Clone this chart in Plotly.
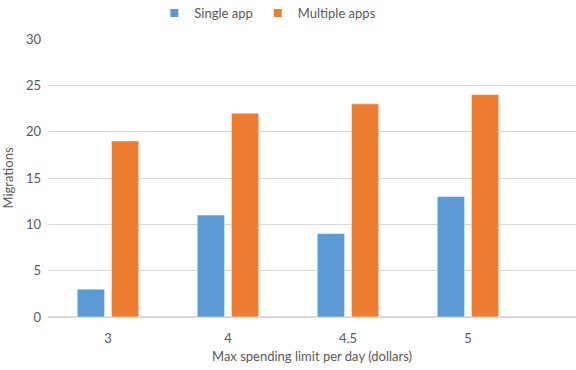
import plotly.graph_objects as go

categories = ["3", "4", "4.5", "5"]
single_app = [3, 11, 9, 13]
multiple_apps = [19, 22, 23, 24]
y_ticks = [0, 5, 10, 15, 20, 25, 30]

BLUE = "#5B9BD5"
ORANGE = "#ED7D31"
TEXT = "#595959"
GRID = "#D9D9D9"
FONT = "Lato"

fig = go.Figure()
fig.add_trace(go.Bar(name="Single app", x=categories, y=single_app, showlegend=False,
                     marker=dict(color=BLUE, line=dict(color="white", width=0.5))))
fig.add_trace(go.Bar(name="Multiple apps", x=categories, y=multiple_apps, showlegend=False,
                     marker=dict(color=ORANGE, line=dict(color="white", width=0.5))))

# small square swatches for the legend
for name, color in [("Single app", BLUE), ("Multiple apps", ORANGE)]:
    fig.add_trace(go.Scatter(x=[None], y=[None], mode="markers", name=name,
                             marker=dict(symbol="square", size=8, color=color)))

fig.update_layout(
    width=576, height=370,
    margin=dict(l=48, r=0, t=39, b=53),
    paper_bgcolor="white", plot_bgcolor="white",
    font=dict(family=FONT, size=13, color=TEXT),
    barmode="group", bargap=0.43, bargroupgap=0.2,
    legend=dict(orientation="h", x=0.465, xanchor="center", xref="container",
                y=0.965, yanchor="middle", yref="container",
                font=dict(size=13, color=TEXT), itemwidth=30, traceorder="normal"),
    xaxis=dict(
        type="category", range=[-0.5, 3.9],
        title=dict(text="Max spending limit per day (dollars)", standoff=7,
                   font=dict(size=13, color=TEXT)),
        showline=True, linecolor=GRID, linewidth=1,
        ticks="", ticklabelstandoff=9, tickfont=dict(size=13, color=TEXT),
    ),
    yaxis=dict(
        range=[0, 30], tickvals=y_ticks,
        title=dict(text="Migrations", standoff=10, font=dict(size=13, color=TEXT)),
        showgrid=True, gridcolor=GRID, gridwidth=1,
        zeroline=True, zerolinecolor=GRID,
        ticks="", ticklabelstandoff=6, tickfont=dict(size=13, color=TEXT),
    ),
)

fig.write_html("out.html")
